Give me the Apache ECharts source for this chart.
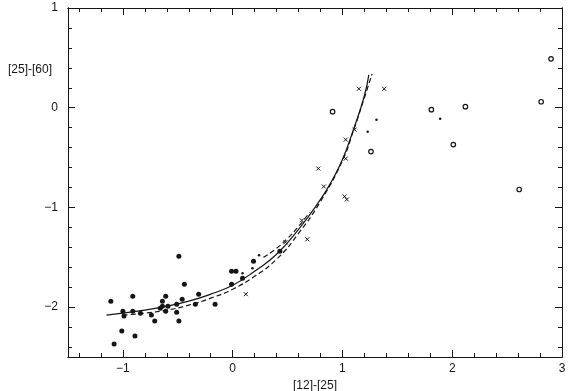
<!DOCTYPE html>
<html>
<head>
<meta charset="utf-8">
<script src="https://cdn.jsdelivr.net/npm/echarts@6/dist/echarts.min.js"></script>
<style>
  html, body { margin: 0; padding: 0; background: #fff; }
  #chart { width: 570px; height: 391px; }
</style>
</head>
<body>
<div id="chart"></div>
<script>
// colour indices
var xMajorTicks = [-1, 0, 1, 2, 3];
var xMinorTicks = [-1.4, -1.2, -0.8, -0.6, -0.4, -0.2, 0.2, 0.4, 0.6, 0.8, 1.2, 1.4, 1.6, 1.8, 2.2, 2.4, 2.6, 2.8];
var yMajorTicks = [-2, -1, 0, 1];
var yMinorTicks = [-2.4, -2.2, -1.8, -1.6, -1.4, -1.2, -0.8, -0.6, -0.4, -0.2, 0.2, 0.4, 0.6, 0.8];

var filledPoints = [
    [-1.11, -1.94], [-1.00, -2.04], [-0.99, -2.09], [-1.01, -2.24], [-1.08, -2.37],
    [-0.91, -1.89], [-0.91, -2.04], [-0.89, -2.29], [-0.84, -2.06], [-0.74, -2.08],
    [-0.71, -2.14], [-0.66, -2.01], [-0.64, -1.94], [-0.64, -1.99], [-0.61, -1.89],
    [-0.61, -2.04], [-0.59, -1.99], [-0.51, -1.97], [-0.51, -2.05], [-0.49, -1.49],
    [-0.49, -2.14], [-0.46, -1.92], [-0.44, -1.77], [-0.34, -1.97], [-0.31, -1.87],
    [-0.16, -1.97], [-0.01, -1.64], [0.03, -1.64], [-0.01, -1.77], [0.09, -1.71],
    [0.19, -1.54], [0.43, -1.44]
];
var smallDots = [[0.09, -1.66], [0.18, -1.61], [0.24, -1.48], [1.31, -0.12], [1.23, -0.24], [1.89, -0.11]];
var crossPoints = [
    [0.12, -1.87], [0.48, -1.35], [0.63, -1.13], [0.68, -1.32], [0.78, -0.61],
    [0.83, -0.79], [1.02, -0.89], [1.04, -0.92], [1.03, -0.32], [1.03, -0.51],
    [1.11, -0.22], [1.15, 0.19], [1.38, 0.19]
];
var openPoints = [[0.91, -0.04], [1.26, -0.44], [1.81, -0.02], [2.01, -0.37], [2.12, 0.01], [2.61, -0.82], [2.81, 0.06], [2.90, 0.49]];

// model curves, sampled by eye from the plot
var solidCurve = [
    [-1.15, -2.08], [-1.0, -2.06], [-0.8, -2.03], [-0.6, -1.99], [-0.4, -1.94], [-0.2, -1.87],
    [0.0, -1.78], [0.2, -1.64], [0.4, -1.47], [0.6, -1.22], [0.8, -0.92], [0.9, -0.74],
    [1.0, -0.52], [1.1, -0.22], [1.2, 0.12], [1.24, 0.33]
];
var dashedCurve = [
    [-1.0, -2.08], [-0.8, -2.06], [-0.6, -2.03], [-0.4, -1.98], [-0.2, -1.91], [0.0, -1.82],
    [0.2, -1.69], [0.4, -1.52], [0.6, -1.26], [0.8, -0.94], [1.0, -0.53], [1.1, -0.23],
    [1.2, 0.10], [1.27, 0.34]
];
var dashedShort = [[0.28, -1.50], [0.4, -1.41], [0.5, -1.31], [0.6, -1.19], [0.7, -1.05]];

var ink = '#151515';
var font = '"Liberation Sans", "DejaVu Sans", sans-serif';

function minusLabel(v) {
    return String(v).replace('-', '\u2212');
}

function makeAxis(pos, min, max, ticks, len, labels) {
    return {
        type: 'value', position: pos, min: min, max: max,
        axisLine: { show: true, onZero: false, lineStyle: { color: ink, width: 1 } },
        axisTick: { show: true, inside: true, length: len, customValues: ticks, lineStyle: { color: ink, width: 1 } },
        axisLabel: labels ? {
            show: true, customValues: labels, formatter: minusLabel,
            color: ink, fontSize: 12, fontFamily: font, margin: 6
        } : { show: false },
        splitLine: { show: false }
    };
}

var chart = echarts.init(document.getElementById('chart'));

var xAxes = [
    makeAxis('bottom', -1.5, 3, xMajorTicks, 7, xMajorTicks),
    makeAxis('bottom', -1.5, 3, xMinorTicks, 4, null),
    makeAxis('top', -1.5, 3, xMajorTicks, 7, null),
    makeAxis('top', -1.5, 3, xMinorTicks, 4, null)
];
xAxes[0].name = '[12]-[25]';
xAxes[0].nameLocation = 'middle';
xAxes[0].nameGap = 18;
xAxes[0].nameTextStyle = { color: ink, fontSize: 12, fontFamily: font };

var yAxes = [
    makeAxis('left', -2.5, 1, yMajorTicks, 7, yMajorTicks),
    makeAxis('left', -2.5, 1, yMinorTicks, 4, null),
    makeAxis('right', -2.5, 1, yMajorTicks, 7, null),
    makeAxis('right', -2.5, 1, yMinorTicks, 4, null)
];
yAxes[0].axisLabel.margin = 10;

var option = {
    backgroundColor: '#fff',
    animation: false,
    title: {
        text: '[25]-[60]', left: 3, top: 59,
        textStyle: { color: ink, fontSize: 12, fontWeight: 'normal', fontFamily: font }
    },
    grid: { left: 68, right: 8, top: 8, bottom: 34, outerBoundsMode: 'none', containLabel: false },
    xAxis: xAxes,
    yAxis: yAxes,
    series: [
        {
            type: 'line', data: solidCurve, smooth: true, showSymbol: false, z: 3,
            lineStyle: { color: ink, width: 1.2 }
        },
        {
            type: 'line', data: dashedCurve, smooth: true, showSymbol: false, z: 3,
            lineStyle: { color: ink, width: 1.2, type: [5, 3] }
        },
        {
            type: 'line', data: dashedShort, smooth: true, showSymbol: false, z: 3,
            lineStyle: { color: ink, width: 1.2, type: [5, 3] }
        },
        {
            type: 'scatter', data: filledPoints, symbol: 'circle', symbolSize: 5, z: 4,
            itemStyle: { color: ink, opacity: 1 }
        },
        {
            type: 'scatter', data: smallDots, symbol: 'circle', symbolSize: 2.5, z: 4,
            itemStyle: { color: ink, opacity: 1 }
        },
        {
            type: 'scatter', data: crossPoints, symbol: 'path://M0,0L10,10M10,0L0,10', symbolSize: 4, z: 4,
            itemStyle: { color: 'none', borderColor: ink, borderWidth: 1, opacity: 1 }
        },
        {
            type: 'scatter', data: openPoints, symbol: 'circle', symbolSize: 4.5, z: 4,
            itemStyle: { color: '#fff', borderColor: ink, borderWidth: 1.2, opacity: 1 }
        }
    ]
};
chart.setOption(option);
</script>
</body>
</html>
